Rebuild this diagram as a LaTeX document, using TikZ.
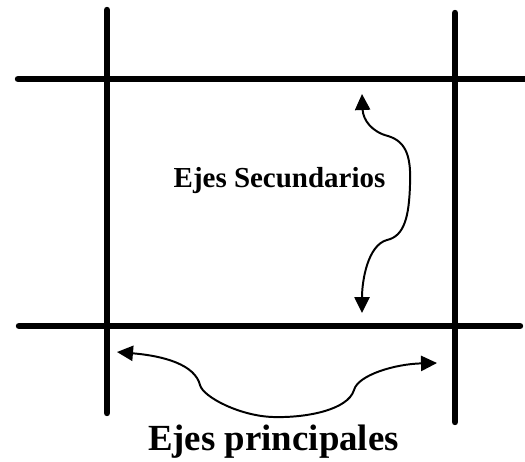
\documentclass[tikz,border=0pt]{standalone}
\usepackage{fontspec}
\setmainfont{Liberation Serif}
\usetikzlibrary{arrows.meta}

\begin{document}
\begin{tikzpicture}[
    x=0.025cm, y=-0.025cm,
    eje/.style={line width=0.16cm, line cap=round, black},
    flecha/.style={line width=1.4pt, black,
                   {Triangle[length=0.4cm, width=0.38cm]}-{Triangle[length=0.4cm, width=0.38cm]}},
    rotulo/.style={font=\bfseries, inner sep=0pt, anchor=base},
]
  \useasboundingbox (0,0) rectangle (525,461);

  % ---- ends of the axes ----
  \coordinate (izqA) at (107, 10);   \coordinate (izqB) at (107,413);
  \coordinate (derA) at (455, 13);   \coordinate (derB) at (455,422);
  \coordinate (supA) at ( 18, 79);   \coordinate (supB) at (530, 79);
  \coordinate (infA) at ( 19,326);   \coordinate (infB) at (520,326);

  % ---- axes ----
  \draw[eje] (izqA) -- (izqB);
  \draw[eje] (derA) -- (derB);
  \draw[eje] (supA) -- (supB);
  \draw[eje] (infA) -- (infB);

  % ---- labels ----
  \node[rotulo, font=\bfseries\fontsize{20.6}{24}\selectfont]
    (secund) at (279.5,187) {Ejes Secundarios};
  \node[rotulo, font=\bfseries\fontsize{26.2}{30}\selectfont]
    (princ) at (273.5,450) {Ejes principales};

  % ---- arrow between the secondary axes ----
  \coordinate (secA) at (362, 94);
  \coordinate (secB) at (362,313);
  \draw[flecha] (secA)
    .. controls (363,120) and (372,132) .. (388,136)
    .. controls (408,142) and (411,160) .. (410,185)
    .. controls (409,215) and (405,236) .. (387,240)
    .. controls (368,245) and (362,280) .. (secB);

  % ---- arrow between the principal axes ----
  \coordinate (priA) at (117,352);
  \coordinate (priB) at (437,363);
  \draw[flecha] (priA)
    .. controls (165,356) and (195,365) .. (200,385)
    .. controls (203,397) and (240,416) .. (273,417)
    .. controls (306,418) and (348,410) .. (354,390)
    .. controls (358,375) and (395,364) .. (priB);
\end{tikzpicture}
\end{document}
